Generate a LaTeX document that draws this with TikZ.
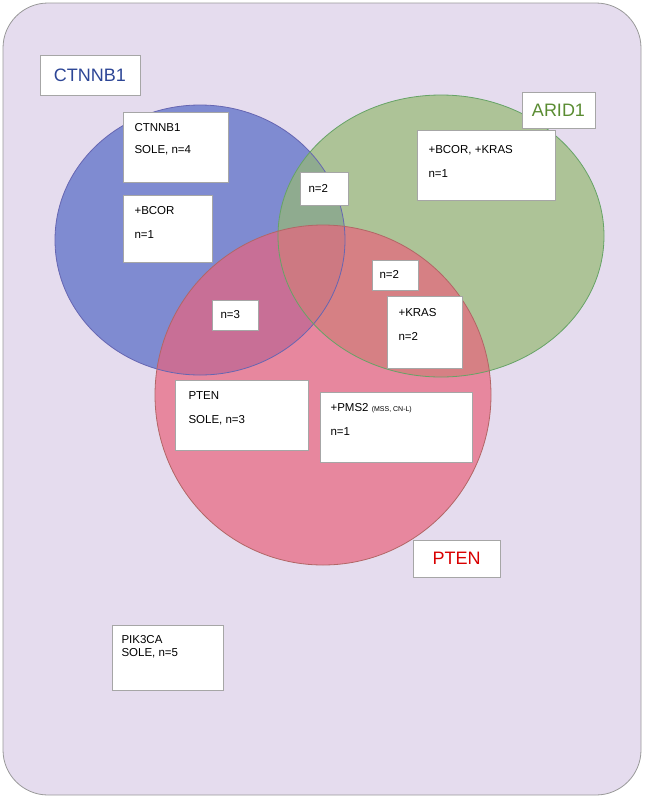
\documentclass[tikz,border=0pt]{standalone}
\usepackage{fontspec}
\setmainfont{Liberation Sans}
\definecolor{bg}{RGB}{229,220,238}
\definecolor{cb}{RGB}{110,125,205}
\definecolor{cg}{RGB}{150,185,115}
\definecolor{cr}{RGB}{232,100,125}
\begin{document}
\begin{tikzpicture}[x=1pt,y=-1pt,
  bx/.style={draw=gray!70,fill=white,line width=0.8pt},
  tx/.style={anchor=north west,font=\fontsize{11.5}{13}\selectfont,align=left},
  lab/.style={font=\fontsize{18}{22}\selectfont}]
\useasboundingbox (0,0) rectangle (645,801);
\draw[fill=bg,draw=gray!80,line width=0.8pt,rounded corners=45] (3,3) rectangle (641,795);
\fill[cb,opacity=0.85] (200,240) ellipse (145 and 135);
\fill[cg,fill opacity=0.7] (441,236) ellipse (163 and 141);
\fill[cr,fill opacity=0.7] (323,395) ellipse (168 and 170);
\draw[blue!50!black!60,line width=0.8pt] (200,240) ellipse (145 and 135);
\draw[green!40!black!60,line width=0.8pt] (441,236) ellipse (163 and 141);
\draw[red!50!black!60,line width=0.8pt] (323,395) ellipse (168 and 170);
% labels
\draw[bx] (40,55) rectangle (140,95); \node[lab,text={rgb,255:red,45;green,70;blue,150}] (lc) at (90,75) {CTNNB1};
\draw[bx] (522,92) rectangle (595,128); \node[lab,text={rgb,255:red,90;green,140;blue,50}] (la) at (558.5,110) {ARID1};
\draw[bx] (413,540) rectangle (500,577); \node[lab,text=red!85!black] (lp) at (456.5,558.5) {PTEN};
% boxes
\draw[bx] (123,112) rectangle (228,182); \node[tx] (b1) at (131,120) {CTNNB1\\[9pt]SOLE, n=4};
\draw[bx] (123,195) rectangle (212,262); \node[tx] (b2) at (131,203) {+BCOR\\[11pt]n=1};
\draw[bx] (300,172) rectangle (348,205); \node[tx] (b3) at (305,181) {n=2};
\draw[bx] (417,130) rectangle (555,200); \node[tx] (b4) at (425,142) {+BCOR, +KRAS\\[11pt]n=1};
\draw[bx] (372,260) rectangle (418,290); \node[tx] (b5) at (376,267) {n=2};
\draw[bx] (212,300) rectangle (258,330); \node[tx] (b6) at (217,307) {n=3};
\draw[bx] (387,296) rectangle (462,368); \node[tx] (b7) at (395,305) {+KRAS\\[11pt]n=2};
\draw[bx] (175,380) rectangle (308,450); \node[tx] (b8) at (185,388) {PTEN\\[11pt]SOLE, n=3};
\draw[bx] (320,392) rectangle (472,462); \node[tx] (b9) at (327,400) {+PMS2 {\fontsize{7}{8}\selectfont (MSS, CN-L)}\\[11pt]n=1};
\draw[bx] (112,625) rectangle (223,690); \node[tx] (b10) at (118,632) {PIK3CA\\SOLE, n=5};
\end{tikzpicture}
\end{document}
